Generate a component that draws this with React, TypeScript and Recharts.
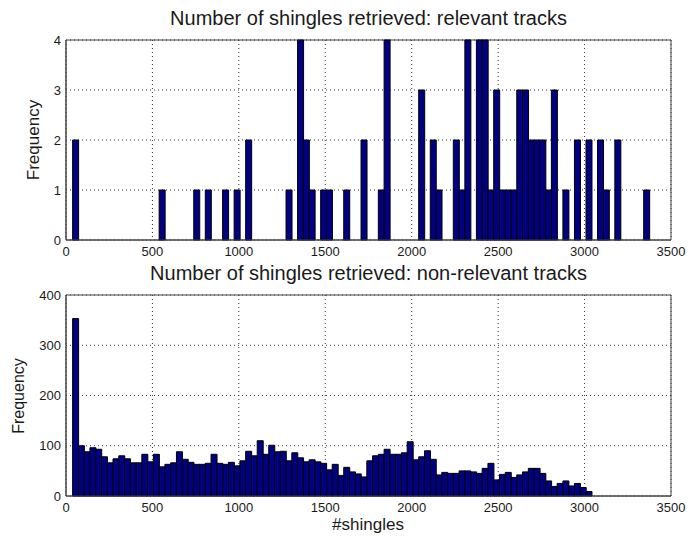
import { BarChart, Bar, XAxis, YAxis, CartesianGrid, ReferenceArea } from 'recharts'

// histogram bins (100 bins, same edges for both panels)
const binLeft = 38.3
const binWidth = 33.37

const xTicks = [0, 500, 1000, 1500, 2000, 2500, 3000, 3500]
const relevantTicks = [0, 1, 2, 3, 4]
const nonRelevantTicks = [0, 100, 200, 300, 400]

const relevantCounts = [
  2, 0, 0, 0, 0, 0, 0, 0, 0, 0,
  0, 0, 0, 0, 0, 1, 0, 0, 0, 0,
  0, 1, 0, 1, 0, 0, 1, 0, 1, 0,
  2, 0, 0, 0, 0, 0, 0, 1, 0, 4,
  2, 1, 0, 1, 1, 0, 0, 1, 0, 0,
  2, 0, 0, 1, 4, 0, 0, 0, 0, 0,
  3, 0, 2, 1, 0, 0, 2, 1, 4, 0,
  4, 4, 1, 3, 1, 1, 1, 3, 3, 2,
  2, 2, 1, 3, 0, 1, 0, 2, 0, 2,
  0, 2, 1, 0, 2, 0, 0, 0, 0, 1,
]

const nonRelevantCounts = [
  353, 100, 88, 96, 93, 78, 66, 74, 80, 74,
  66, 66, 83, 68, 83, 58, 63, 66, 88, 73,
  67, 63, 63, 65, 83, 65, 63, 67, 60, 70,
  89, 80, 110, 83, 101, 88, 89, 70, 86, 76,
  68, 72, 68, 65, 52, 63, 41, 57, 48, 44,
  38, 70, 80, 83, 93, 83, 83, 86, 108, 72,
  78, 90, 73, 42, 47, 45, 45, 50, 50, 48,
  45, 55, 65, 32, 43, 47, 37, 42, 48, 55,
  55, 45, 30, 19, 25, 30, 20, 25, 17, 9,
  0, 0, 0, 0, 0, 0, 0, 0, 0, 0,
]

const FONT = "'Liberation Sans', Arial, Helvetica, sans-serif"
const INK = '#1a1a1a'

const toRows = (counts: number[]) =>
  counts.map((count, i) => ({ x: binLeft + binWidth * (i + 0.5), count }))

type PanelProps = {
  counts: number[]
  yTicks: number[]
  top: number
  height: number
  marginTop: number
  marginBottom: number
}

function HistPanel({ counts, yTicks, top, height, marginTop, marginBottom }: PanelProps) {
  const yMax = yTicks[yTicks.length - 1]
  const tick = { fontSize: 13, fill: INK, fontFamily: FONT }
  return (
    <div style={{ position: 'absolute', left: 0, top }}>
      <BarChart
        width={698}
        height={height}
        data={toRows(counts)}
        margin={{ top: marginTop, right: 27, bottom: marginBottom, left: 36 }}
        barCategoryGap={0}
        barGap={0}
      >
        <CartesianGrid stroke="#333" strokeDasharray="1 3" />
        <XAxis
          type="number"
          dataKey="x"
          domain={[0, 3500]}
          ticks={xTicks}
          allowDataOverflow
          height={20}
          tick={tick}
          tickLine={false}
          tickSize={5}
          tickMargin={2}
          axisLine={{ stroke: '#444' }}
        />
        <YAxis
          type="number"
          domain={[0, yMax]}
          ticks={yTicks}
          width={30}
          tick={tick}
          tickLine={false}
          tickSize={3}
          tickMargin={2}
          axisLine={{ stroke: '#444' }}
        />
        <Bar dataKey="count" fill="#000080" stroke="#000" strokeWidth={1} isAnimationActive={false} />
        <ReferenceArea x1={0} x2={3500} y1={0} y2={yMax} fill="none" stroke="#444" />
      </BarChart>
    </div>
  )
}

const titleStyle = {
  position: 'absolute' as const,
  left: 66,
  width: 605,
  textAlign: 'center' as const,
  fontFamily: FONT,
  fontSize: 20,
  lineHeight: '20px',
  color: INK,
  whiteSpace: 'nowrap' as const,
}

function YLabel({ cx, cy, size }: { cx: number; cy: number; size: number }) {
  return (
    <div
      style={{
        position: 'absolute',
        left: cx - 60,
        top: cy - 10,
        width: 120,
        height: 20,
        lineHeight: '20px',
        textAlign: 'center',
        fontFamily: FONT,
        fontSize: size,
        color: INK,
        transform: 'rotate(-90deg)',
      }}
    >
      Frequency
    </div>
  )
}

export default function App() {
  return (
    <div style={{ position: 'absolute', left: 0, top: 0, width: 698, height: 536, background: '#fff', overflow: 'hidden' }}>
      <div style={{ ...titleStyle, top: 8 }}>Number of shingles retrieved: relevant tracks</div>
      <HistPanel counts={relevantCounts} yTicks={relevantTicks} top={0} height={268} marginTop={40} marginBottom={8} />
      <YLabel cx={34} cy={140} size={17} />

      <div style={{ ...titleStyle, top: 263 }}>Number of shingles retrieved: non-relevant tracks</div>
      <HistPanel counts={nonRelevantCounts} yTicks={nonRelevantTicks} top={256} height={280} marginTop={39} marginBottom={20} />
      <YLabel cx={19} cy={396} size={16} />

      <div
        style={{
          position: 'absolute',
          left: 268,
          width: 200,
          top: 516,
          textAlign: 'center',
          fontFamily: FONT,
          fontSize: 17,
          lineHeight: '18px',
          color: INK,
        }}
      >
        #shingles
      </div>
    </div>
  )
}
